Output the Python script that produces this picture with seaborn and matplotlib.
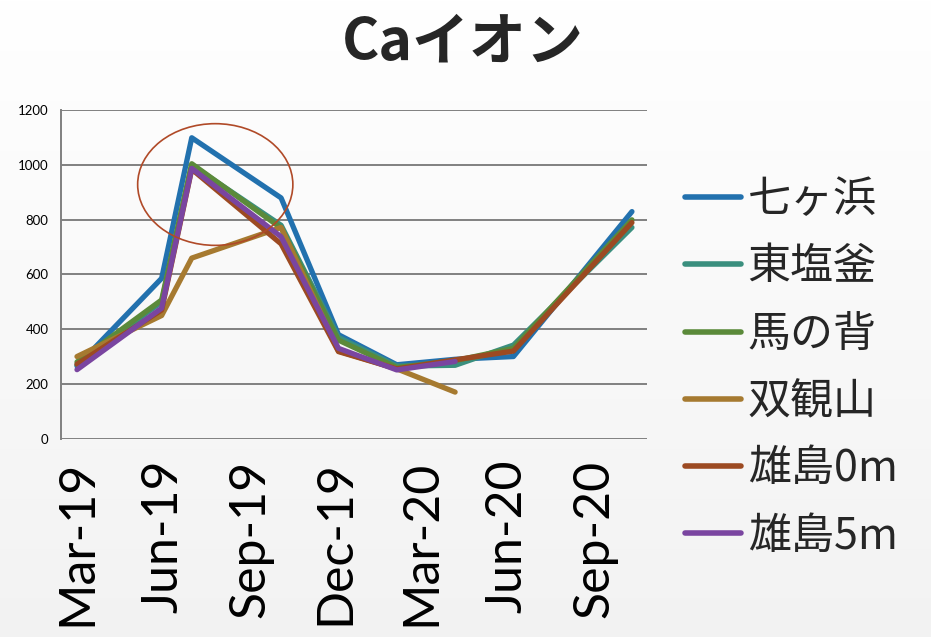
import numpy as np
import pandas as pd
import matplotlib
matplotlib.use("Agg")
import matplotlib.pyplot as plt
import matplotlib.dates as mdates
from matplotlib.patches import Ellipse
from matplotlib.lines import Line2D
import seaborn as sns

# Sampling dates
dates = ["2019-03-01", "2019-05-30", "2019-07-01", "2019-10-04", "2019-12-04",
         "2020-02-04", "2020-04-06", "2020-06-07", "2020-10-11"]

# Ca ion concentration per site (None = not sampled)
shichigahama = [265, 586, 1100, 880, 380, 270, 290, 300, 830]
higashishiogama = [270, 500, 1000, 780, 370, 265, 268, 342, 772]
umanose = [280, 507, 1005, 770, 360, 260, 285, 330, 800]
soukanzan = [300, 450, 660, 772, 320, 255, 170, None, None]
oshima_0m = [272, 470, 985, 712, 318, 255, 288, 320, 790]
oshima_5m = [252, 477, 988, 738, 330, 251, 282, None, None]

sites = ["七ヶ浜", "東塩釜", "馬の背", "双観山", "雄島0m", "雄島5m"]
series = [shichigahama, higashishiogama, umanose, soukanzan, oshima_0m, oshima_5m]
colors = ["#2271AE", "#3A8F7E", "#5B8A3A", "#A67A30", "#9C4A22", "#7A45A0"]

tick_months = ["2019-03-01", "2019-06-01", "2019-09-01", "2019-12-01",
               "2020-03-01", "2020-06-01", "2020-09-01"]
y_ticks = [0, 200, 400, 600, 800, 1000, 1200]

rows = []
for site, vals in zip(sites, series):
    for d, v in zip(dates, vals):
        if v is not None:
            rows.append({"date": pd.Timestamp(d), "site": site, "Ca": v})
df = pd.DataFrame(rows)

sns.set_theme(style="white")
plt.rcParams["font.family"] = ["Noto Sans CJK JP", "DejaVu Sans"]

fig = plt.figure(figsize=(9.31, 6.37), dpi=100)

# soft background shading
bg = fig.add_axes([0, 0, 1, 1], zorder=-10)
grad = np.linspace(1.0, 0.95, 256).reshape(-1, 1)
bg.imshow(np.dstack([grad, grad, grad]), aspect="auto", extent=[0, 1, 0, 1])
bg.set_axis_off()

ax = fig.add_axes([61 / 931, 1 - 439 / 637, 586 / 931, 329 / 637])
ax.set_facecolor("none")

palette = dict(zip(sites, colors))
sns.lineplot(data=df, x="date", y="Ca", hue="site", hue_order=sites,
             palette=palette, linewidth=3.8, sort=True, legend=False,
             ax=ax, zorder=3)

# highlight around the summer peak
center = mdates.date2num(pd.Timestamp("2019-07-26"))
ax.add_patch(Ellipse((center, 929), width=165, height=445, fill=False,
                     edgecolor="#B04A28", linewidth=1.2, zorder=4))

ax.set_xlim(pd.Timestamp("2019-02-12"), pd.Timestamp("2020-10-27"))
ax.set_ylim(-1.5, 1201.5)
ax.set_yticks(y_ticks)
ax.set_xticks([pd.Timestamp(t) for t in tick_months])
ax.xaxis.set_major_formatter(mdates.DateFormatter("%b-%y"))

ax.yaxis.grid(True, color="#808080", linewidth=1.4)
ax.xaxis.grid(False)
for s in ["top", "right", "bottom"]:
    ax.spines[s].set_visible(False)
ax.spines["left"].set_color("#808080")
ax.spines["left"].set_linewidth(1.4)

ax.tick_params(axis="y", length=0, pad=9, labelsize=9.5, labelcolor="black")
ax.tick_params(axis="x", length=0, pad=15, labelsize=36, labelcolor="black",
               rotation=90)
for lab in ax.get_yticklabels():
    lab.set_fontfamily(["Lato", "DejaVu Sans"])
for lab in ax.get_xticklabels():
    lab.set_fontfamily(["Lato", "DejaVu Sans"])
ax.set_xlabel("")
ax.set_ylabel("")

handles = [Line2D([0], [0], color=c, linewidth=4, solid_capstyle="round")
           for c in colors]
fig.legend(handles, sites, loc="upper left", bbox_to_anchor=(668 / 931, 1 - 161 / 637),
           frameon=False, fontsize=31, handlelength=1.3, handletextpad=0.15,
           labelspacing=0.54, borderaxespad=0)

fig.text(0.497, 1 - 42 / 637, "Caイオン", ha="center", va="center",
         fontsize=41, fontweight="bold",
         family=["Noto Sans CJK JP", "DejaVu Sans"])

fig.savefig("out.png", dpi=100)
